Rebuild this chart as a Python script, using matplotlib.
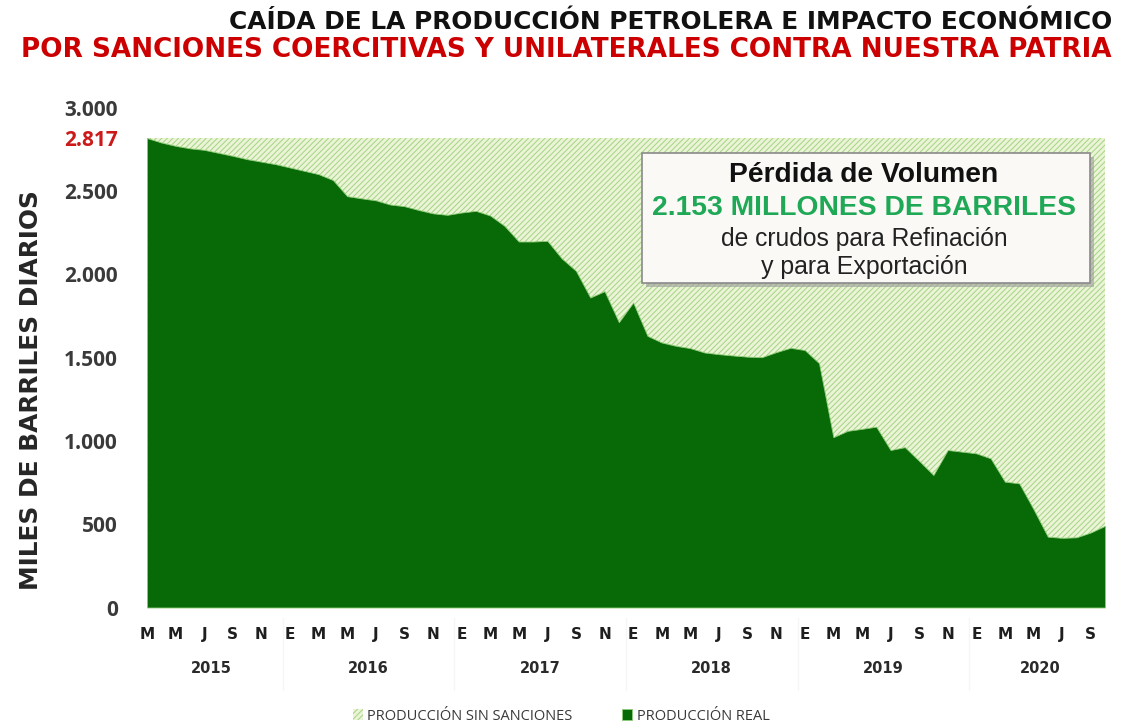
import matplotlib
matplotlib.use("Agg")
import matplotlib.pyplot as plt
from matplotlib.patches import Rectangle
import numpy as np
import pandas as pd

# ---------------- data ----------------
start_month = "2015-03"
real_production = [
    2817, 2790, 2770, 2755, 2746, 2728, 2710, 2690, 2675, 2660,
    2640, 2620, 2600, 2565, 2468, 2455, 2443, 2418, 2408, 2385, 2365, 2356,
    2370, 2380, 2352, 2290, 2196, 2196, 2200, 2095, 2020, 1860, 1898, 1712,
    1830, 1630, 1590, 1570, 1556, 1530, 1520, 1512, 1505, 1502, 1532, 1558,
    1545, 1466, 1022, 1060, 1072, 1085, 945, 962, 880, 795, 945, 935,
    925, 895, 755, 745, 590, 425, 418, 421, 450, 490,
]
production_without_sanctions = 2817
month_letters = {1: "E", 3: "M", 5: "M", 7: "J", 9: "S", 11: "N"}
yticks = [0, 500, 1000, 1500, 2000, 2500, 3000]
ytick_labels = ["0", "500", "1.000", "1.500", "2.000", "2.500", "3.000"]
peak_label = "2.817"
title1 = "CAÍDA DE LA PRODUCCIÓN PETROLERA E IMPACTO ECONÓMICO"
title2 = "POR SANCIONES COERCITIVAS Y UNILATERALES CONTRA NUESTRA PATRIA"
box_lines = ["Pérdida de Volumen", "2.153 MILLONES DE BARRILES",
             "de crudos para Refinación", "y para Exportación"]
ylabel = "MILES DE BARRILES DIARIOS"
legend_labels = ["PRODUCCIÓN SIN SANCIONES", "PRODUCCIÓN REAL"]

# ---------------- derived ----------------
dates = pd.date_range(start_month, periods=len(real_production), freq="MS")
x = np.arange(len(real_production))
sin_sanciones = np.full(len(x), production_without_sanctions)

W, H = 1127, 724
fig = plt.figure(figsize=(W / 100, H / 100), dpi=100)
fig.patch.set_facecolor("white")
ax = fig.add_axes([147 / W, 1 - 607.5 / H, (1105 - 147) / W, 500 / H])
ax.set_facecolor("white")

DARK = "#076a07"
plt.rcParams["hatch.linewidth"] = 0.7
h_sin = ax.fill_between(x, 0, sin_sanciones, facecolor="#ebf4d6",
                        edgecolor="#a3d484", hatch="//////", linewidth=0,
                        label=legend_labels[0])
h_real = ax.fill_between(x, 0, real_production, facecolor=DARK,
                         edgecolor="#8fcc78", linewidth=0.6,
                         label=legend_labels[1])

ax.set_xlim(0, len(x) - 1)
ax.set_ylim(0, 3000)
for s in ax.spines.values():
    s.set_visible(False)

# y ticks
ax.set_yticks(yticks + [production_without_sanctions])
ax.set_yticklabels(ytick_labels + [peak_label])
ax.tick_params(axis="y", length=0, pad=21, labelsize=15, labelcolor="#3a3a3a")
for lab in ax.get_yticklabels():
    lab.set_fontfamily("Open Sans")
    lab.set_fontweight("bold")
ax.get_yticklabels()[-1].set_color("#cc1a1a")

# x ticks (every two months)
tick_pos = [i for i, d in enumerate(dates) if d.month in month_letters]
tick_lab = [month_letters[dates[i].month] for i in tick_pos]
ax.set_xticks(tick_pos)
ax.set_xticklabels(tick_lab)
ax.tick_params(axis="x", length=0, pad=14, labelsize=11, labelcolor="#1e1e1e")
for lab in ax.get_xticklabels():
    lab.set_fontweight("heavy")

# year labels + faint separators
years = sorted(set(dates.year))
xtr = ax.get_xaxis_transform()
for yr in years:
    idx = [i for i, d in enumerate(dates) if d.year == yr]
    ax.text(np.mean(idx), -0.122, str(yr), transform=xtr, ha="center",
            va="center", fontsize=10.5, fontweight="bold", color="#2a2a2a")
    if idx[0] > 0:
        ax.plot([idx[0] - 0.5] * 2, [-0.02, -0.165], transform=xtr,
                color="#f6f6f6", lw=1, clip_on=False)

r = fig.canvas.get_renderer()


def fit(t, width_px):
    w = t.get_window_extent(r).width
    t.set_fontsize(t.get_fontsize() * width_px / w)


# titles
t1 = fig.text(1112 / W, 1 - 22 / H, title1, ha="right", va="center",
              fontsize=16, fontweight="bold", color="#111111")
fit(t1, 886)
t2 = fig.text(1112 / W, 1 - 50 / H, title2, ha="right", va="center",
              fontsize=16, fontweight="bold", color="#cc0000")
fit(t2, 1092)

# y label
yl = fig.text(31 / W, 1 - 390 / H, ylabel, rotation=90, ha="center",
              va="center", fontsize=16, fontweight="heavy", color="#262626")
fit_h = yl.get_window_extent(r).height
yl.set_fontsize(yl.get_fontsize() * 400 / fit_h)

# text box with shadow
bx0, bx1, by0, by1 = 642, 1090, 153, 283
shadow = Rectangle(((bx0 + 4) / W, 1 - (by1 + 4) / H), (bx1 - bx0) / W,
                   (by1 - by0) / H, transform=fig.transFigure,
                   facecolor="#9a9a9a", edgecolor="none", alpha=0.6)
fig.add_artist(shadow)
box = Rectangle((bx0 / W, 1 - by1 / H), (bx1 - bx0) / W, (by1 - by0) / H,
                transform=fig.transFigure, facecolor="#faf9f6",
                edgecolor="#8a8a8a", linewidth=1.2)
fig.add_artist(box)
specs = [(175, box_lines[0], "bold", "#111111", 270),
         (208, box_lines[1], "bold", "#1fa855", 425),
         (239, box_lines[2], "normal", "#222222", 290),
         (267, box_lines[3], "normal", "#222222", 209)]
for yy, txt, wt, col, wpx in specs:
    t = fig.text(864 / W, 1 - yy / H, txt, ha="center", va="center",
                 fontsize=14, fontweight=wt, color=col,
                 family="Liberation Sans")
    fit(t, wpx)

# legend
leg = fig.legend([h_sin, h_real], legend_labels, loc="center",
                 bbox_to_anchor=(561 / W, 1 - 716 / H), ncol=2,
                 frameon=False, handlelength=0.7, handleheight=0.7,
                 columnspacing=3.4, handletextpad=0.3,
                 prop={"family": "Open Sans", "size": 10.5})
for t in leg.get_texts():
    t.set_color("#3a3a3a")

fig.savefig("out.png", dpi=100, facecolor="white")
